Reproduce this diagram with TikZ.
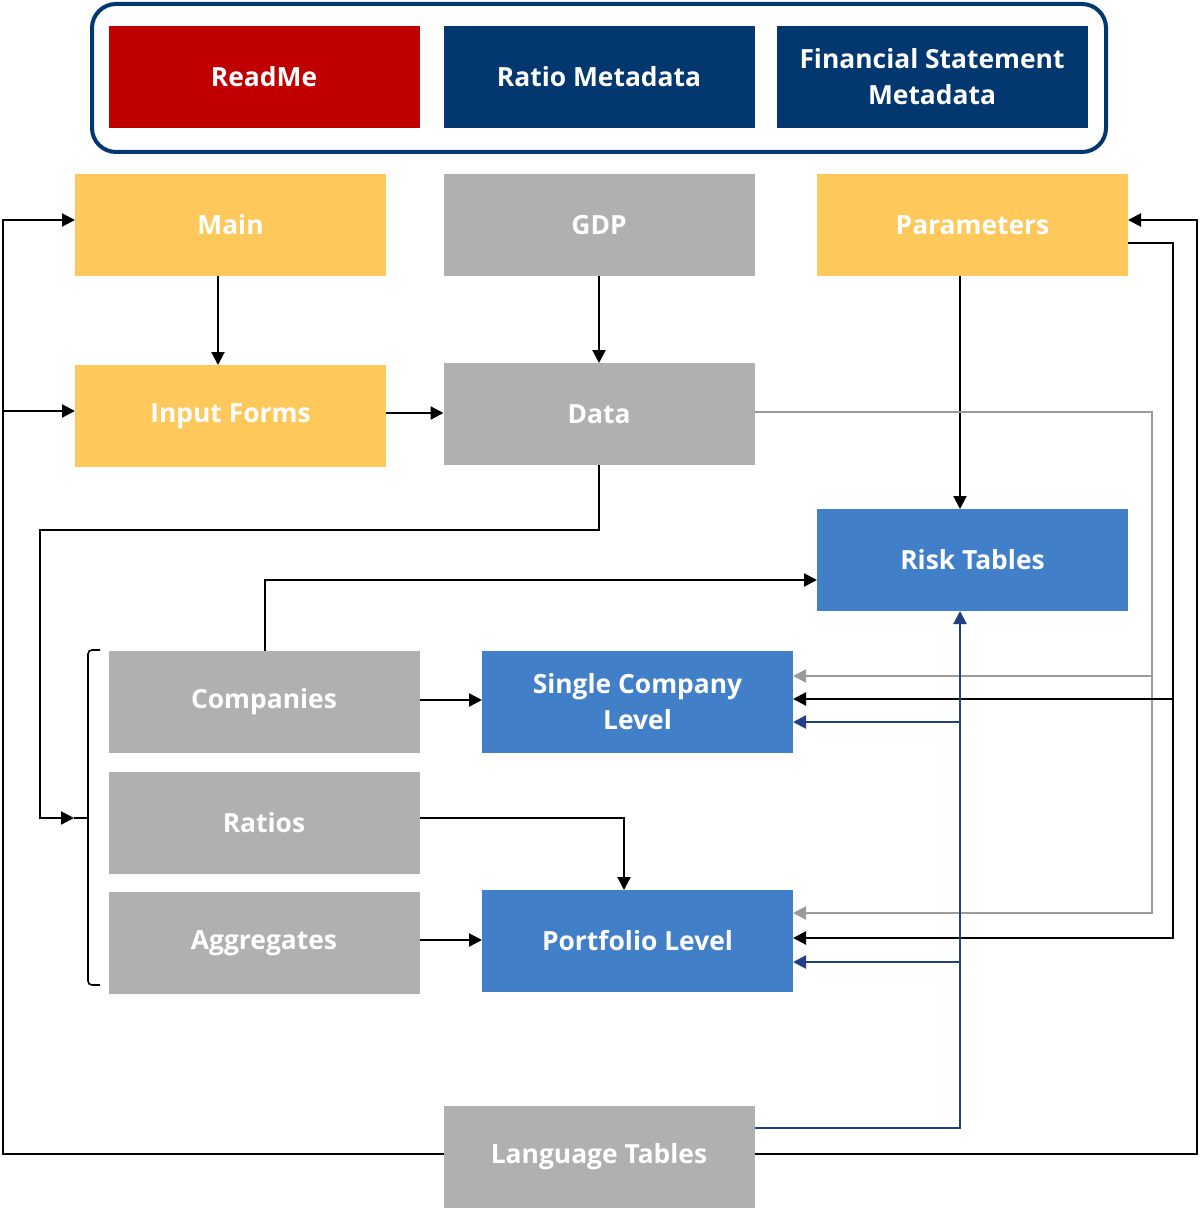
\documentclass[tikz,border=0pt]{standalone}
\usepackage{fontspec}
\setmainfont{Open Sans}
\usetikzlibrary{arrows.meta}
\definecolor{cyellow}{HTML}{FFC85A}
\definecolor{cgray}{HTML}{AFB0AF}
\definecolor{cblue}{HTML}{4180C9}
\definecolor{cnavy}{HTML}{02376F}
\definecolor{cred}{HTML}{C00000}
\definecolor{lgray}{HTML}{9A9A9A}
\definecolor{lnavy}{HTML}{213F82}
\begin{document}
\begin{tikzpicture}[x=0.5pt,y=-0.5pt,
  box/.style={rectangle, inner sep=0pt, outer sep=0pt, minimum width=155.5pt, minimum height=51pt,
    text=white, font=\bfseries\fontsize{13.2}{18}\selectfont, align=center},
  ybox/.style={box, fill=cyellow},
  gbox/.style={box, fill=cgray},
  bbox/.style={box, fill=cblue},
  nbox/.style={box, fill=cnavy},
  rbox/.style={box, fill=cred},
  arr/.style={line width=1.1pt, -{Triangle[length=6.5pt,width=6.5pt]}},
  garr/.style={arr, draw=lgray},
  narr/.style={arr, draw=lnavy},
]
\useasboundingbox (0,0) rectangle (1200,1208);
% top frame
\node[draw=cnavy, line width=2pt, rounded corners=12pt, minimum width=507pt, minimum height=74pt, inner sep=0pt] (frame) at (599,78) {};
\node[rbox] (readme) at (264,77) {ReadMe};
\node[nbox] (ratiometa) at (599,77) {Ratio Metadata};
\node[nbox] (fsmeta) at (932,77) {Financial Statement\\Metadata};
% rows
\node[ybox] (main) at (230.5,225) {Main};
\node[gbox] (gdp) at (599,225) {GDP};
\node[ybox] (params) at (972.5,225) {Parameters};
\node[ybox] (input) at (230.5,416) {Input Forms};
\node[gbox] (data) at (599,414) {Data};
\node[bbox] (risk) at (972.5,560) {Risk Tables};
\node[gbox] (comp) at (264,702) {Companies};
\node[bbox] (single) at (637.5,702) {Single Company\\Level};
\node[gbox] (ratios) at (264,823) {Ratios};
\node[bbox] (port) at (637.5,941) {Portfolio Level};
\node[gbox] (aggr) at (264,943) {Aggregates};
\node[gbox] (lang) at (599,1157) {Language Tables};
% bracket
\coordinate (btip) at (74,818);
\draw[line width=0.8pt, rounded corners=2pt] (100,650) -- (88,650) -- (88,985) -- (100,985);
\draw[line width=0.8pt] (88,818) -- (btip);
% simple arrows
\draw[arr] (218,0 |- main.south) -- (218,0 |- input.north);
\draw[arr] (gdp.south) -- (data.north);
\draw[arr] (input.east |- 0,413) -- (data.west |- 0,413);
\draw[arr] (960,0 |- params.south) -- (960,0 |- risk.north);
\draw[arr] (data.south) -- (599,530) -- (40,530) -- (40,818) -- (btip);
\draw[arr] (265,0 |- comp.north) -- (265,580) -- (risk.west |- 0,580);
\draw[arr] (comp.east |- 0,700) -- (single.west |- 0,700);
\draw[arr] (ratios.east |- 0,818) -- (624,818) -- (624,0 |- port.north);
\draw[arr] (aggr.east |- 0,940) -- (port.west |- 0,940);
% data -> single / portfolio (gray)
\draw[garr] (data.east |- 0,412) -- (1152,412) -- (1152,913) -- (port.east |- 0,913);
\draw[garr] (1152,676) -- (single.east |- 0,676);
% parameters -> single / portfolio (black)
\draw[arr] (params.east |- 0,243) -- (1173,243) -- (1173,938) -- (port.east |- 0,938);
\draw[arr] (1173,699) -- (single.east |- 0,699);
% language tables -> risk / single / portfolio (navy)
\draw[narr] (lang.east |- 0,1128) -- (960,1128) -- (960,0 |- risk.south);
\draw[narr] (960,722) -- (single.east |- 0,722);
\draw[narr] (960,962) -- (port.east |- 0,962);
% language tables -> main / input forms / parameters (black)
\draw[arr] (lang.west |- 0,1154) -- (3,1154) -- (3,220) -- (main.west |- 0,220);
\draw[arr] (3,411) -- (input.west |- 0,411);
\draw[arr] (lang.east |- 0,1154) -- (1197,1154) -- (1197,220) -- (params.east |- 0,220);
\end{tikzpicture}
\end{document}
